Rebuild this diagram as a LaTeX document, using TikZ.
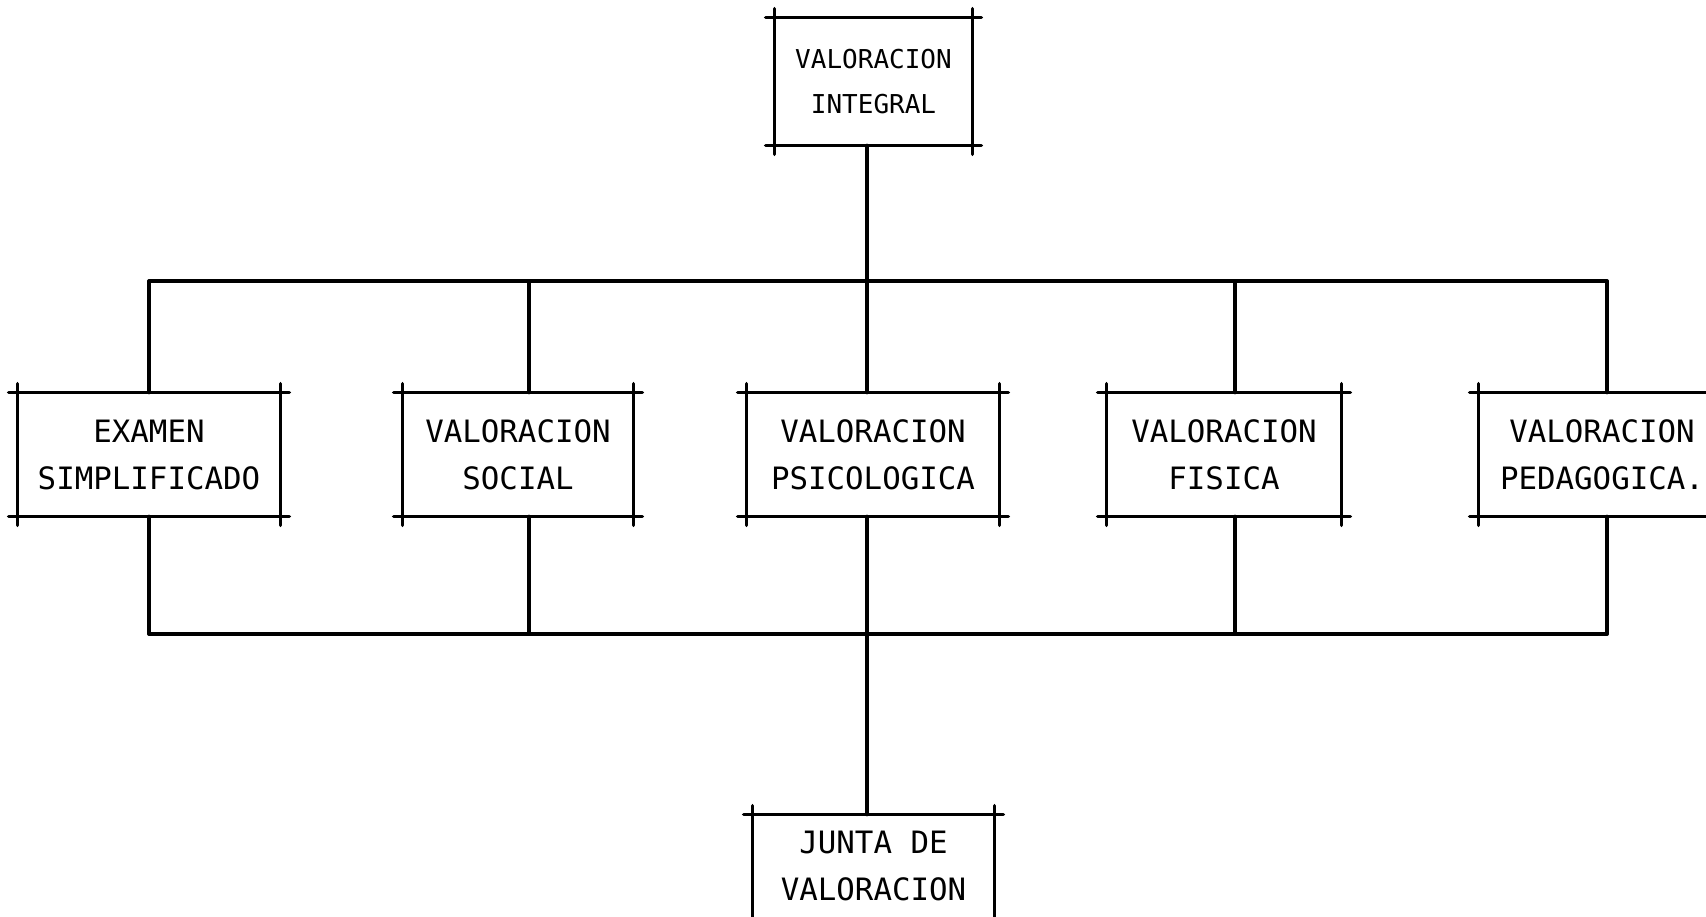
\documentclass[tikz,border=0pt]{standalone}
\usepackage{fontspec}
\newfontfamily\typew{DejaVu Sans Mono}
\newcommand\ebox[1]{%
  \draw[ln] ([xshift=-4.5pt]#1.north west) -- ([xshift=4.5pt]#1.north east);
  \draw[ln] ([xshift=-4.5pt]#1.south west) -- ([xshift=4.5pt]#1.south east);
  \draw[ln] ([yshift=4.5pt]#1.north west) -- ([yshift=-4.5pt]#1.south west);
  \draw[ln] ([yshift=4.5pt]#1.north east) -- ([yshift=-4.5pt]#1.south east);
}
\begin{document}
\begin{tikzpicture}[x=0.5pt,y=-0.5pt,
  box/.style={inner sep=0pt, align=center, font=\typew\fontsize{15.4}{23.5}\selectfont, text=black, minimum height=61.5pt},
  ln/.style={line width=1.7pt, black, line cap=round}]
\useasboundingbox (0,0) rectangle (1706,916);
% nodes
\node[box, minimum width=98.5pt, minimum height=63.5pt, font=\typew\fontsize{13}{22.5}\selectfont] (top) at (873.5,81.5) {VALORACION\\INTEGRAL};
\node[box, minimum width=131pt] (exam) at (149,454.5) {EXAMEN\\SIMPLIFICADO};
\node[box, minimum width=115pt] (soc) at (518,454.5) {VALORACION\\SOCIAL};
\node[box, minimum width=126pt] (psi) at (873,454.5) {VALORACION\\PSICOLOGICA};
\node[box, minimum width=117pt] (fis) at (1224,454.5) {VALORACION\\FISICA};
\node[box, minimum width=123pt] (ped) at (1602,454.5) {VALORACION\\PEDAGOGICA.};
\node[box, minimum width=120.5pt, minimum height=51pt] (jun) at (873.5,866) {JUNTA DE\\VALORACION};
\foreach \n in {top,exam,soc,psi,fis,ped} {\ebox{\n}}
% bottom box: its lower edge lies below the page
\coordinate (jb) at (0,960);
\draw[ln] ([xshift=-4.5pt]jun.north west) -- ([xshift=4.5pt]jun.north east);
\draw[ln] ([yshift=4.5pt]jun.north west) -- (jun.north west |- jb);
\draw[ln] ([yshift=4.5pt]jun.north east) -- (jun.north east |- jb);
% bus coordinates
\coordinate (u1) at (149,281);
\coordinate (u2) at (529,281);
\coordinate (u3) at (867,281);
\coordinate (u4) at (1235,281);
\coordinate (u5) at (1607,281);
\coordinate (l1) at (149,634);
\coordinate (l2) at (529,634);
\coordinate (l3) at (867,634);
\coordinate (l4) at (1235,634);
\coordinate (l5) at (1607,634);
% connectors
\draw[ln] (top.south -| u3) -- (u3);
\draw[ln] (u1) -- (u5);
\draw[ln] (u1) -- (u1 |- exam.north);
\draw[ln] (u2) -- (u2 |- soc.north);
\draw[ln] (u3) -- (u3 |- psi.north);
\draw[ln] (u4) -- (u4 |- fis.north);
\draw[ln] (u5) -- (u5 |- ped.north);
\draw[ln] (exam.south -| l1) -- (l1);
\draw[ln] (soc.south -| l2) -- (l2);
\draw[ln] (psi.south -| l3) -- (l3);
\draw[ln] (fis.south -| l4) -- (l4);
\draw[ln] (ped.south -| l5) -- (l5);
\draw[ln] (l1) -- (l5);
\draw[ln] (l3) -- (l3 |- jun.north);
\end{tikzpicture}
\end{document}
